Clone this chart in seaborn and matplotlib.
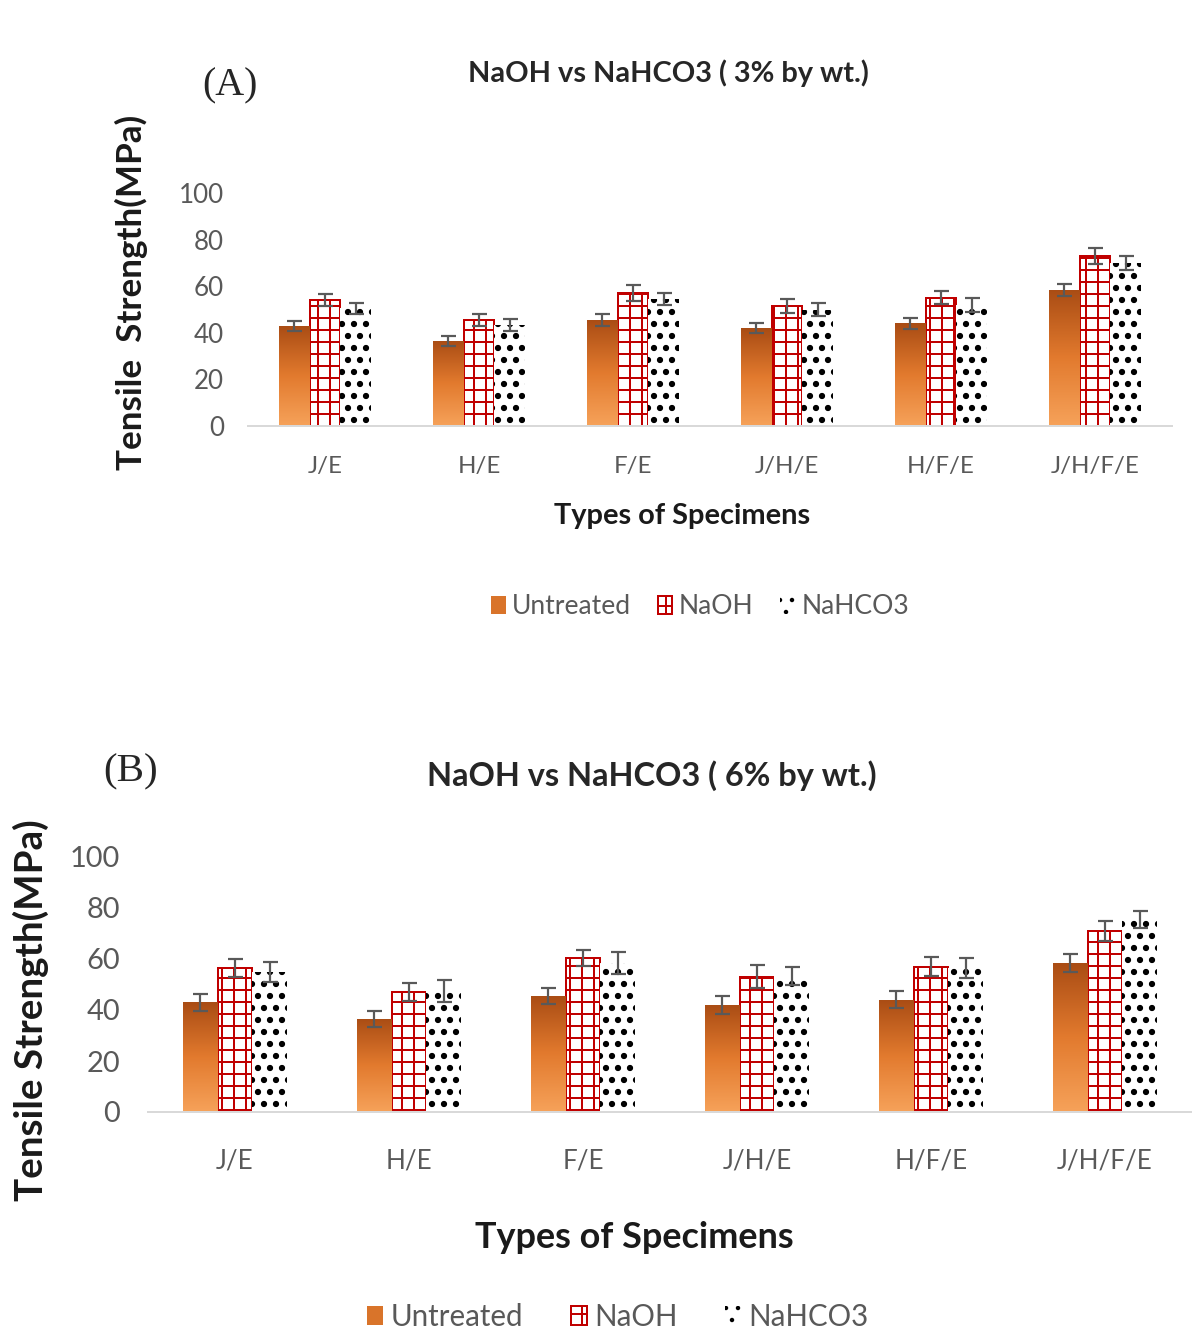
import numpy as np
import pandas as pd
import seaborn as sns
import matplotlib.pyplot as plt
from matplotlib.patches import Patch

sns.set_style("white")
plt.rcParams["font.family"] = ["Lato", "DejaVu Sans"]
plt.rcParams["hatch.linewidth"] = 2.0

specimens = ["J/E", "H/E", "F/E", "J/H/E", "H/F/E", "J/H/F/E"]
treatments = ["Untreated", "NaOH", "NaHCO3"]

# (A) 3% by wt.
a_untreated = [43, 36.5, 45.5, 42, 44, 58.5]
a_naoh = [54, 45.5, 57, 51.5, 55, 73]
a_nahco3 = [50.5, 43.5, 54.5, 50, 52, 70]
a_err_untreated = [2.2, 2.2, 2.6, 2.2, 2.2, 2.6]
a_err_naoh = [2.6, 2.6, 3.5, 3.2, 2.8, 3.5]
a_err_nahco3 = [2.5, 2.6, 2.6, 2.6, 3.0, 3.0]

# (B) 6% by wt.
b_untreated = [43, 36.5, 45.5, 42, 44, 58.5]
b_naoh = [56.5, 47, 60.5, 53, 57, 71]
b_nahco3 = [55, 47.5, 58.5, 53.5, 56.5, 75.5]
b_err_untreated = [3.2, 3.1, 3.3, 3.4, 3.4, 3.5]
b_err_naoh = [3.4, 3.6, 3.2, 4.5, 3.8, 3.8]
b_err_nahco3 = [4.0, 4.3, 4.3, 3.5, 3.8, 3.2]

GRAY = "#595959"
RED = "#C00000"
DOT_LW = 3.8
GRID_LW = 2.0


def set_hlw(p, lw):
    # per-patch hatch line width
    if hasattr(p, "set_hatch_linewidth"):
        p.set_hatch_linewidth(lw)
    else:
        p._hatch_linewidth = lw


def long_table(u, n, h):
    return pd.DataFrame({
        "specimen": specimens * 3,
        "treatment": np.repeat(treatments, len(specimens)),
        "strength": u + n + h,
    })


def draw_panel(ax, df, errs, fs_y, fs_x, pad_y, pad_x):
    sns.barplot(data=df, x="specimen", y="strength", hue="treatment",
                order=specimens, hue_order=treatments, errorbar=None,
                width=0.6, legend=False, ax=ax)
    grad = np.linspace(0, 1, 256).reshape(-1, 1)
    cmap = sns.blend_palette(["#A94C14", "#E27A2E", "#F6A25A"], as_cmap=True)
    conts = list(ax.containers)
    for i, cont in enumerate(conts):
        for bar, e in zip(cont, errs[i]):
            if i == 0:
                bar.set_facecolor("#E27A2E")
                bar.set_edgecolor("none")
                x0, w, h = bar.get_x(), bar.get_width(), bar.get_height()
                im = ax.imshow(grad, cmap=cmap, aspect="auto",
                               extent=[x0, x0 + w, 0, h], zorder=bar.get_zorder() + 0.1,
                               origin="upper")
                im.set_clip_path(bar)
            elif i == 1:
                bar.set_facecolor("white")
                bar.set_edgecolor(RED)
                bar.set_hatch("+")
                bar.set_linewidth(2.0)
                set_hlw(bar, GRID_LW)
            else:
                bar.set_facecolor("white")
                bar.set_edgecolor("black")
                bar.set_hatch(".")
                bar.set_linewidth(0)
                set_hlw(bar, DOT_LW)
            ax.errorbar(bar.get_x() + bar.get_width() / 2, bar.get_height(), yerr=e,
                        fmt="none", ecolor=GRAY, elinewidth=2.2, capsize=7.5,
                        capthick=2.2, zorder=5)
    ax.set_xlim(-0.5, len(specimens) - 0.5)
    ax.set_ylim(0, 100)
    ax.set_yticks(range(0, 101, 20))
    ax.tick_params(axis="both", length=0, colors=GRAY)
    ax.tick_params(axis="y", labelsize=fs_y, pad=pad_y)
    ax.tick_params(axis="x", labelsize=fs_x, pad=pad_x)
    for s in ["top", "right", "left"]:
        ax.spines[s].set_visible(False)
    ax.spines["bottom"].set_color("#D9D9D9")
    ax.spines["bottom"].set_linewidth(2)
    ax.set_xlabel("")
    ax.set_ylabel("")


def legend_handles():
    h2 = Patch(facecolor="white", edgecolor=RED, hatch="+", linewidth=2, label="NaOH")
    h3 = Patch(facecolor="white", edgecolor="black", hatch=".", linewidth=0, label="NaHCO3")
    set_hlw(h2, GRID_LW)
    set_hlw(h3, DOT_LW)
    return [Patch(facecolor="#D9742A", edgecolor="none", label="Untreated"), h2, h3]


# 72 dpi so that 1 pt = 1 px and the hatch cell is 72 px
W, H = 1192, 1337
fig = plt.figure(figsize=(W / 72, H / 72), dpi=72)

# panel A
ax1 = fig.add_axes([248 / W, 1 - 426 / H, 924 / W, 233 / H])
draw_panel(ax1, long_table(a_untreated, a_naoh, a_nahco3),
           [a_err_untreated, a_err_naoh, a_err_nahco3], 26, 24, 24, 30)
fig.text(668 / W, 1 - 73 / H, "NaOH vs NaHCO3 ( 3% by wt.)", ha="center", va="center",
         fontsize=29, fontweight="bold", color="#262626")
fig.text(230 / W, 1 - 86 / H, "(A)", ha="center", va="center", fontsize=40,
         family=["Liberation Serif", "DejaVu Serif"], color="#262626")
fig.text(131 / W, 1 - 292 / H, "Tensile  Strength(MPa)", ha="center", va="center",
         rotation=90, fontsize=35, fontweight="bold", color="#1a1a1a")
fig.text(682 / W, 1 - 516 / H, "Types of Specimens", ha="center", va="center",
         fontsize=29, fontweight="bold", color="#1a1a1a")
fig.legend(handles=legend_handles(), loc="center", bbox_to_anchor=(700 / W, 1 - 607 / H),
           ncol=3, frameon=False, fontsize=26.5, handlelength=0.55, handleheight=0.65,
           handletextpad=0.25, columnspacing=1.0, labelcolor=GRAY)

# panel B
ax2 = fig.add_axes([148 / W, 1 - 1112 / H, 1044 / W, 255 / H])
draw_panel(ax2, long_table(b_untreated, b_naoh, b_nahco3),
           [b_err_untreated, b_err_naoh, b_err_nahco3], 29, 26, 28, 36)
fig.text(652 / W, 1 - 776 / H, "NaOH vs NaHCO3 ( 6% by wt.)", ha="center", va="center",
         fontsize=32.5, fontweight="bold", color="#262626")
fig.text(131 / W, 1 - 772 / H, "(B)", ha="center", va="center", fontsize=41,
         family=["Liberation Serif", "DejaVu Serif"], color="#262626")
fig.text(31 / W, 1 - 1010 / H, "Tensile Strength(MPa)", ha="center", va="center",
         rotation=90, fontsize=38.5, fontweight="bold", color="#1a1a1a")
fig.text(634 / W, 1 - 1238 / H, "Types of Specimens", ha="center", va="center",
         fontsize=36, fontweight="bold", color="#1a1a1a")
fig.legend(handles=legend_handles(), loc="center", bbox_to_anchor=(618 / W, 1 - 1317 / H),
           ncol=3, frameon=False, fontsize=29.5, handlelength=0.55, handleheight=0.65,
           handletextpad=0.25, columnspacing=1.6, labelcolor=GRAY)

fig.savefig("out.png", dpi=72, facecolor="white")
